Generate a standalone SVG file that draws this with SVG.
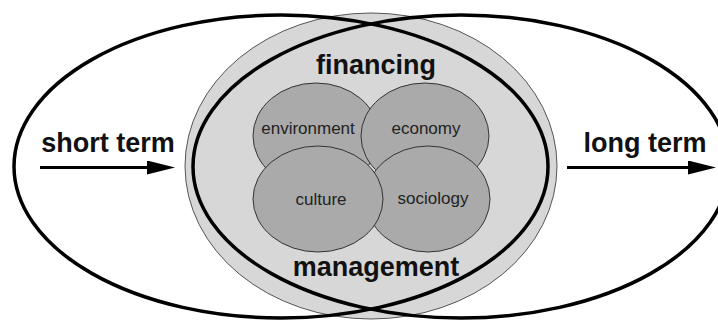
<svg xmlns="http://www.w3.org/2000/svg" width="718" height="320" viewBox="0 0 718 320">
<style>
.big{font-family:"Liberation Sans",Arial,sans-serif;font-weight:bold;font-size:27px;fill:#111;text-anchor:middle}
.small{font-family:"Liberation Sans",Arial,sans-serif;font-size:17px;fill:#222;text-anchor:middle}
.sub{fill:#aaaaaa;stroke:#333;stroke-width:1}
.thick{fill:none;stroke:#000;stroke-width:3.5}
.arrow{stroke:#000;stroke-width:3;fill:none}
</style>
<defs>
<marker id="ah" markerUnits="userSpaceOnUse" markerWidth="30" markerHeight="16" refX="3" refY="7" orient="auto">
<path d="M0,0 L28,7 L0,14 z" fill="#000"/>
</marker>
</defs>
<rect width="718" height="320" fill="#fff"/>
<g id="sustainability">
<ellipse cx="371" cy="166" rx="186" ry="153" fill="#d7d7d7" stroke="#555" stroke-width="1"/>
<text class="big" x="376" y="74">financing</text>
<text class="big" x="376" y="276">management</text>
</g>
<g id="environment">
<ellipse class="sub" cx="316" cy="136" rx="63" ry="53"/>
<text class="small" x="308" y="134">environment</text>
</g>
<g id="economy">
<ellipse class="sub" cx="425" cy="136" rx="64" ry="53"/>
<text class="small" x="426" y="134">economy</text>
</g>
<g id="sociology">
<ellipse class="sub" cx="428" cy="199" rx="62" ry="53"/>
<text class="small" x="433" y="204">sociology</text>
</g>
<g id="culture">
<ellipse class="sub" cx="318" cy="199" rx="65" ry="53"/>
<text class="small" x="321" y="205">culture</text>
</g>
<g id="short-term">
<ellipse class="thick" cx="281" cy="166.5" rx="267" ry="151.5"/>
<text class="big" x="108" y="152">short term</text>
</g>
<g id="long-term">
<ellipse class="thick" cx="461" cy="166.5" rx="268" ry="151.5"/>
<text class="big" x="645" y="152">long term</text>
</g>
<g id="connectors">
<path class="arrow" d="M40,167.5 H150" marker-end="url(#ah)"/>
<path class="arrow" d="M567,167.5 H691" marker-end="url(#ah)"/>
</g>
</svg>
